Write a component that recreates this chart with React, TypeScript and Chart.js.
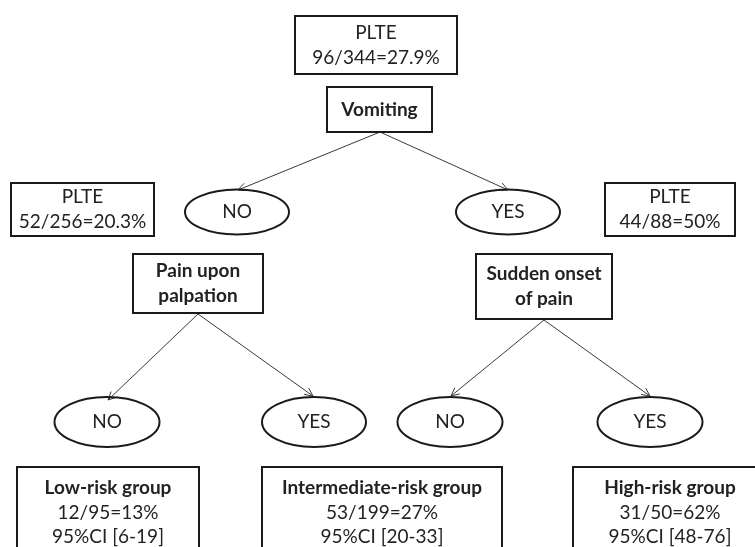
import React, { useEffect, useRef } from "react";
import { Chart, registerables } from "chart.js";

Chart.register(...registerables);

// ---- data ----
const plteLabel = "PLTE";
const plteEvents = [96, 52, 44];
const plteTotals = [344, 256, 88];
const pltePercents = ["27.9", "20.3", "50"];

const questionLines = [["Vomiting"], ["Pain upon", "palpation"], ["Sudden onset", "of pain"]];
const answerLabels = ["NO", "YES", "NO", "YES", "NO", "YES"];

const groupNames = ["Low-risk group", "Intermediate-risk group", "High-risk group"];
const groupEvents = [12, 53, 31];
const groupTotals = [95, 199, 50];
const groupPercents = [13, 27, 62];
const ciLow = [6, 20, 48];
const ciHigh = [19, 33, 76];

// ---- layout (in scale units) ----
const plteBoxes = [
  [295, 16, 457, 74],
  [11, 183, 154, 236],
  [605, 183, 735, 236],
];
const questionBoxes = [
  [327, 87, 432, 132],
  [133, 254, 263, 313],
  [476, 254, 612, 319],
];
const answerEllipses = [
  [237, 212, 52, 22.5],
  [508, 212, 52, 22.5],
  [107, 422, 52.5, 25],
  [314, 422, 52, 25],
  [450, 422, 52.5, 25],
  [650, 422, 52.5, 25],
];
const groupBoxes = [
  [17, 467, 199, 580],
  [262, 467, 502, 580],
  [573, 467, 767, 580],
];
const arrows = [
  [380, 132, 238, 190],
  [380, 132, 508, 190],
  [198, 314, 108, 400],
  [198, 314, 313, 396],
  [544, 320, 451, 396],
  [544, 320, 650, 396],
];

const FONT = "Lato, 'Open Sans', sans-serif";

const diagramPlugin = {
  id: "diagram",
  afterDatasetsDraw(chart: any) {
    const ctx: CanvasRenderingContext2D = chart.ctx;
    const xs = chart.scales.x;
    const ys = chart.scales.y;
    const px = (v: number) => xs.getPixelForValue(v);
    const py = (v: number) => ys.getPixelForValue(v);
    ctx.save();
    ctx.fillStyle = "#ffffff";
    ctx.fillRect(0, 0, chart.width, chart.height);

    const rect = (b: number[]) => {
      ctx.lineWidth = 2;
      ctx.strokeStyle = "#1a1a1a";
      const x0 = px(b[0]), y0 = py(b[1]), x1 = px(b[2]), y1 = py(b[3]);
      ctx.strokeRect(x0, y0, x1 - x0, y1 - y0);
    };
    const text = (s: string, x: number, y: number, bold: boolean) => {
      ctx.fillStyle = "#222222";
      ctx.font = (bold ? "bold " : "") + "19px " + FONT;
      ctx.textAlign = "center";
      ctx.textBaseline = "middle";
      ctx.fillText(s, px(x), py(y));
    };
    const lineH = 25;

    // arrows
    arrows.forEach((a) => {
      const x0 = px(a[0]), y0 = py(a[1]), x1 = px(a[2]), y1 = py(a[3]);
      ctx.strokeStyle = "#3a3a3a";
      ctx.lineWidth = 1;
      ctx.beginPath();
      ctx.moveTo(x0, y0);
      ctx.lineTo(x1, y1);
      const ang = Math.atan2(y1 - y0, x1 - x0);
      const L = 9, sp = 0.45;
      ctx.moveTo(x1 - L * Math.cos(ang - sp), y1 - L * Math.sin(ang - sp));
      ctx.lineTo(x1, y1);
      ctx.lineTo(x1 - L * Math.cos(ang + sp), y1 - L * Math.sin(ang + sp));
      ctx.stroke();
    });

    // PLTE boxes
    plteBoxes.forEach((b, i) => {
      rect(b);
      const cy = (b[1] + b[3]) / 2;
      text(plteLabel, (b[0] + b[2]) / 2, cy - lineH / 2, false);
      text(`${plteEvents[i]}/${plteTotals[i]}=${pltePercents[i]}%`, (b[0] + b[2]) / 2, cy + lineH / 2, false);
    });

    // question boxes
    questionBoxes.forEach((b, i) => {
      rect(b);
      const lines = questionLines[i];
      const cy = (b[1] + b[3]) / 2;
      lines.forEach((l, k) => {
        text(l, (b[0] + b[2]) / 2, cy + (k - (lines.length - 1) / 2) * lineH, true);
      });
    });

    // answer ellipses
    answerEllipses.forEach((e, i) => {
      ctx.lineWidth = 2;
      ctx.strokeStyle = "#1a1a1a";
      ctx.beginPath();
      ctx.ellipse(px(e[0]), py(e[1]), Math.abs(px(e[0] + e[2]) - px(e[0])), Math.abs(py(e[1] + e[3]) - py(e[1])), 0, 0, Math.PI * 2);
      ctx.stroke();
      text(answerLabels[i], e[0], e[1], false);
    });

    // group boxes
    groupBoxes.forEach((b, i) => {
      rect(b);
      const cx = (b[0] + b[2]) / 2;
      text(groupNames[i], cx, b[1] + 21, true);
      text(`${groupEvents[i]}/${groupTotals[i]}=${groupPercents[i]}%`, cx, b[1] + 46, false);
      text(`95%CI [${ciLow[i]}-${ciHigh[i]}]`, cx, b[1] + 70, false);
    });

    ctx.restore();
  },
};

export default function App() {
  const ref = useRef<HTMLCanvasElement | null>(null);
  useEffect(() => {
    document.body.style.margin = "0";
    const canvas = ref.current!;
    const anchors = [...plteBoxes, ...questionBoxes, ...groupBoxes].map((b) => ({ x: (b[0] + b[2]) / 2, y: (b[1] + b[3]) / 2 }));
    const chart = new Chart(canvas, {
      type: "scatter",
      data: {
        datasets: [{ data: anchors, pointRadius: 0, pointHoverRadius: 0 }],
      },
      options: {
        animation: false,
        responsive: false,
        devicePixelRatio: 1,
        layout: { padding: 0 },
        events: [],
        plugins: { legend: { display: false }, tooltip: { enabled: false } },
        scales: {
          x: { type: "linear", min: 0, max: 755, display: false },
          y: { type: "linear", min: 0, max: 547, reverse: true, display: false },
        },
      },
      plugins: [diagramPlugin],
    });
    return () => chart.destroy();
  }, []);
  return <canvas ref={ref} width={755} height={547} style={{ display: "block" }} />;
}
